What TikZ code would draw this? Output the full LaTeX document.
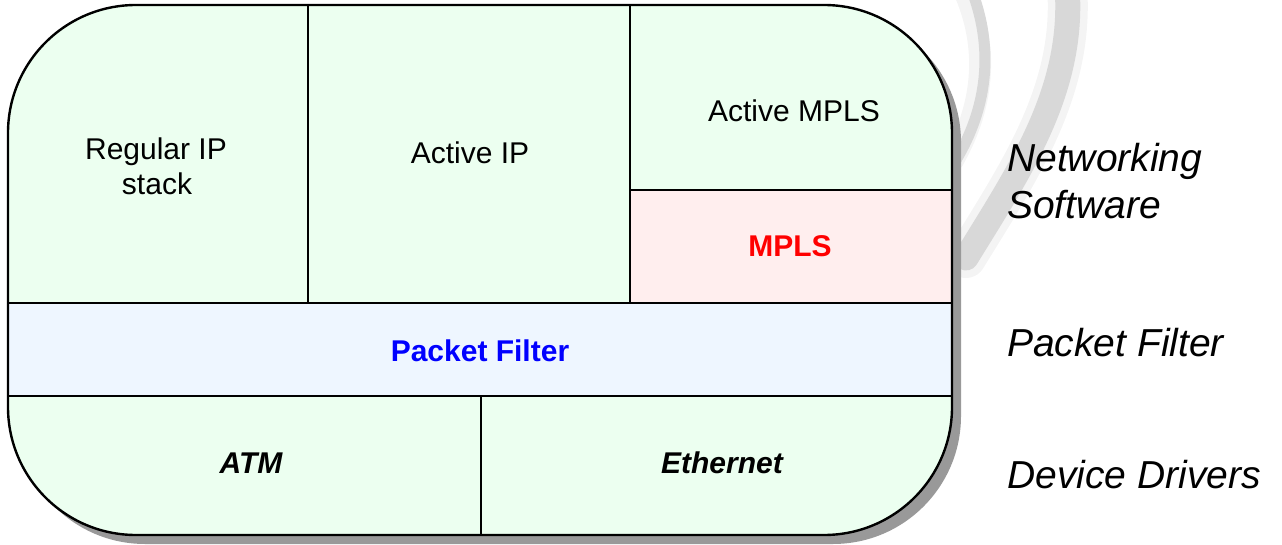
\documentclass[tikz,border=0pt]{standalone}
\usepackage{fontspec}
\setmainfont{Liberation Sans}
\definecolor{layergreen}{RGB}{236,255,240}
\definecolor{layerpink}{RGB}{255,238,238}
\definecolor{layerblue}{RGB}{238,246,255}
\definecolor{shadowgray}{RGB}{153,153,153}
\definecolor{swirlcore}{RGB}{216,216,216}
\definecolor{swirlhaze}{RGB}{244,244,244}
\newcommand\cellfont{\fontsize{30}{35}\selectfont}
\newcommand\sidefont{\fontsize{39}{47}\selectfont\itshape}
\begin{document}
\begin{tikzpicture}[x=1pt,y=-1pt,
  cell/.style={draw=black, line width=1.8pt, anchor=north west, inner sep=0pt, outer sep=0pt},
  celltext/.style={anchor=base, inner sep=0pt, font=\cellfont},
  sidetext/.style={anchor=base west, inner sep=0pt, font=\sidefont},
  outline/.style={rounded corners=128pt}]
\useasboundingbox (0,0) rectangle (1282,545);

% faint swirl behind the box
\draw[swirlhaze, line width=40pt, line cap=round]
  (1067,-14) .. controls (1075,90) and (1020,170) .. (966,258);
\draw[swirlcore, line width=25pt, line cap=round]
  (1067,-14) .. controls (1075,90) and (1020,170) .. (966,258);
\draw[swirlhaze, line width=22pt]
  (962,-14) .. controls (992,50) and (982,110) .. (952,162);
\draw[swirlcore, line width=11pt]
  (970,-14) .. controls (996,50) and (986,110) .. (956,160);

% drop shadow
\fill[shadowgray, outline, shift={(9,9)}] (8,5) rectangle (952,535);

% layer cells, clipped to the rounded outline
\begin{scope}
  \clip[outline] (8,5) rectangle (952,535);
  \node[cell, fill=layergreen, minimum width=308pt, minimum height=303pt] (regular) at (0,0) {};
  \node[cell, fill=layergreen, minimum width=322pt, minimum height=303pt] (activeip) at (308,0) {};
  \node[cell, fill=layergreen, minimum width=330pt, minimum height=190pt] (activempls) at (630,0) {};
  \node[cell, fill=layerpink, minimum width=330pt, minimum height=113pt] (mpls) at (630,190) {};
  \node[cell, fill=layerblue, minimum width=960pt, minimum height=93pt] (filter) at (0,303) {};
  \node[cell, fill=layergreen, minimum width=481pt, minimum height=149pt] (atm) at (0,396) {};
  \node[cell, fill=layergreen, minimum width=479pt, minimum height=149pt] (ethernet) at (481,396) {};
\end{scope}
\draw[black, line width=2.4pt, outline] (8,5) rectangle (952,535);

% cell labels
\node[celltext] (regtxt) at (156,160) {Regular IP};
\node[celltext] (stacktxt) at (157,195) {stack};
\node[celltext] (aiptxt) at (470,164) {Active IP};
\node[celltext] (amplstxt) at (794,122) {Active MPLS};
\node[celltext, text=red, font=\cellfont\bfseries] (mplstxt) at (790,257) {MPLS};
\node[celltext, text=blue, font=\cellfont\bfseries] (filtertxt) at (480,361) {Packet Filter};
\node[celltext, font=\cellfont\bfseries\itshape] (atmtxt) at (251,473) {ATM};
\node[celltext, font=\cellfont\bfseries\itshape] (ethtxt) at (722,473) {Ethernet};

% layer names
\node[sidetext] (netsw1) at (1007,172) {Networking};
\node[sidetext] (netsw2) at (1007,219) {Software};
\node[sidetext] (pfside) at (1007,356) {Packet Filter};
\node[sidetext] (ddside) at (1007,488) {Device Drivers};
\end{tikzpicture}
\end{document}
